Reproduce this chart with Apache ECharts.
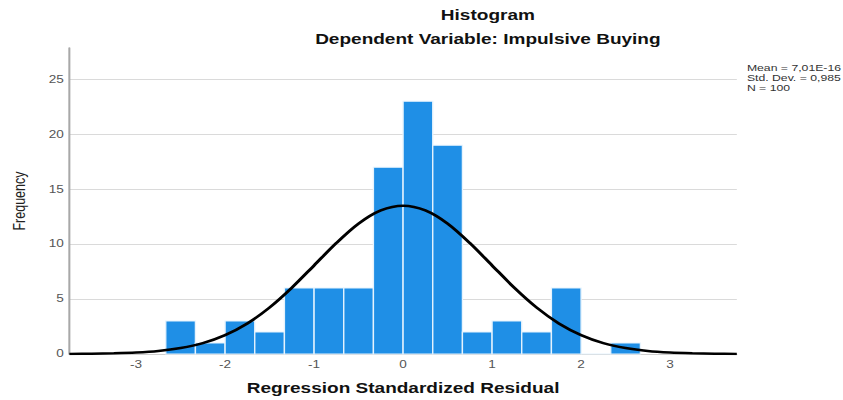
<!DOCTYPE html>
<html>
<head>
<meta charset="utf-8">
<script src="https://cdn.jsdelivr.net/npm/echarts@6/dist/echarts.min.js"></script>
<style>
html,body{margin:0;padding:0;background:#fff;overflow:hidden;}
#c{width:620px;height:400px;transform:scaleX(1.3597);transform-origin:0 0;}
</style>
</head>
<body>
<div id="c"></div>
<script>
// Histogram bins (regression standardized residual), bin width 1/3
const binStart = [-8/3, -7/3, -2, -5/3, -4/3, -1, -2/3, -1/3, 0, 1/3, 2/3, 1, 4/3, 5/3, 2, 7/3];
const binEnd   = [-7/3, -2, -5/3, -4/3, -1, -2/3, -1/3, 0, 1/3, 2/3, 1, 4/3, 5/3, 2, 7/3, 8/3];
const frequency = [3, 1, 3, 2, 6, 6, 6, 17, 23, 19, 2, 3, 2, 6, 0, 1];

// Normal curve
const curveX = [-3.75,-3.5,-3.25,-3,-2.75,-2.5,-2.25,-2,-1.75,-1.5,-1.25,-1,-0.75,-0.5,-0.25,0,
                0.25,0.5,0.75,1,1.25,1.5,1.75,2,2.25,2.5,2.75,3,3.25,3.5,3.75];
const curveY = [0.01,0.02,0.06,0.13,0.27,0.54,0.99,1.72,2.78,4.23,6.03,8.06,10.10,11.87,13.07,13.50,
                13.07,11.87,10.10,8.06,6.03,4.23,2.78,1.72,0.99,0.54,0.27,0.13,0.06,0.02,0.01];

const xTickLabels = [-3, -2, -1, 0, 1, 2, 3];
const titleText = 'Histogram';
const subtitleText = 'Dependent Variable: Impulsive Buying';
const statsText = ['Mean = 7,01E-16', 'Std. Dev. = 0,985', 'N = 100'];
const xName = 'Regression Standardized Residual';
const yName = 'Frequency';

const FONT = "'Liberation Sans', Arial, sans-serif";
const chart = echarts.init(document.getElementById('c'), null, {renderer: 'svg'});

const barData = binStart.map((s, i) => [s, binEnd[i], frequency[i]]);
const lineData = curveX.map((x, i) => [x, curveY[i]]);

chart.setOption({
  animation: false,
  backgroundColor: '#fff',
  grid: {left: 47.4, right: 78.1, top: 48, bottom: 46},
  graphic: [
    {type: 'text', x: 358.8, y: 15, style: {text: titleText, font: 'bold 14px ' + FONT, fill: '#111',
      align: 'center', verticalAlign: 'middle', textAlign: 'center', textVerticalAlign: 'middle'}},
    {type: 'text', x: 358.8, y: 39, style: {text: subtitleText, font: 'bold 14px ' + FONT, fill: '#111',
      align: 'center', verticalAlign: 'middle', textAlign: 'center', textVerticalAlign: 'middle'}},
    {type: 'text', x: 549.3, y: 63, style: {text: statsText.join('\n'), font: '9px ' + FONT, fill: '#333',
      lineHeight: 10, align: 'left', verticalAlign: 'top', textAlign: 'left', textVerticalAlign: 'top'}}
  ],
  xAxis: {
    type: 'value', min: -3.75, max: 3.75,
    name: xName, nameLocation: 'middle', nameGap: 27,
    nameTextStyle: {fontFamily: FONT, fontWeight: 'bold', fontSize: 14, color: '#111'},
    axisLine: {show: true, onZero: false, lineStyle: {color: '#cfcfcf', width: 1}},
    axisTick: {show: false},
    splitLine: {show: false},
    axisLabel: {customValues: xTickLabels, fontFamily: FONT, fontSize: 10, color: '#555', margin: 6}
  },
  yAxis: {
    type: 'value', min: 0, max: 27.85, interval: 5,
    name: yName, nameLocation: 'middle', nameGap: 30,
    nameTextStyle: {fontFamily: FONT, fontSize: 12.5, color: '#222'},
    axisLine: {show: true, onZero: false, lineStyle: {color: '#a8a8a8', width: 1.5}},
    axisTick: {show: false},
    splitLine: {show: true, showMaxLine: false, lineStyle: {color: '#dadada', width: 1}},
    axisLabel: {showMaxLabel: false, fontFamily: FONT, fontSize: 10, color: '#555', margin: 4}
  },
  series: [
    {
      type: 'custom',
      data: barData,
      encode: {x: [0, 1], y: 2},
      renderItem: function (params, api) {
        const p0 = api.coord([api.value(0), api.value(2)]);
        const p1 = api.coord([api.value(1), 0]);
        return {
          type: 'rect',
          shape: {x: p0[0], y: p0[1], width: p1[0] - p0[0], height: p1[1] - p0[1]},
          style: {fill: '#1f8fe6', stroke: '#e6f3fd', lineWidth: 1}
        };
      },
      z: 2
    },
    {
      type: 'line',
      data: lineData,
      smooth: 0.3,
      symbol: 'none',
      lineStyle: {color: '#000', width: 2.5},
      z: 3
    }
  ]
});
</script>
</body>
</html>
